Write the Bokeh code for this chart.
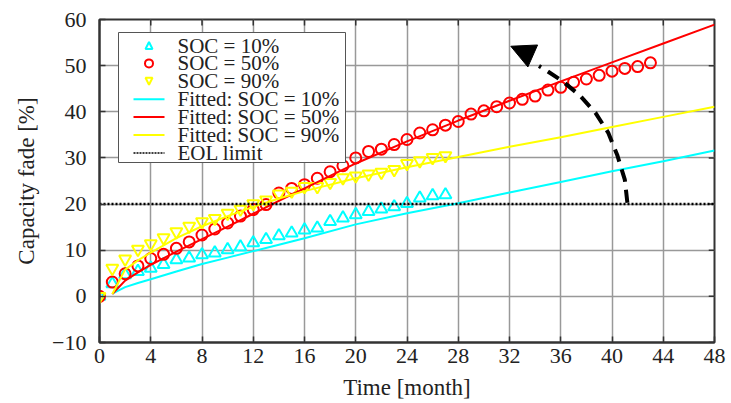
from bokeh.plotting import figure
from bokeh.models import (Range1d, FixedTicker, Arrow, NormalHead, Label, BoxAnnotation)
from bokeh.embed import file_html
from bokeh.resources import INLINE

# ---------------- data ----------------
months_10 = list(range(28))
soc10 = [0, 2.7, 4.7, 5.4, 6.1, 6.9, 7.9, 8.3, 9.0, 9.4, 10.1, 10.7, 11.6, 12.3,
         13.1, 13.7, 14.4, 14.8, 16.2, 17.0, 17.7, 18.4, 18.9, 19.4, 20.1, 21.3,
         21.8, 22.0]

months_50 = list(range(44))
soc50 = [0, 3.1, 4.9, 6.6, 8.2, 9.1, 10.4, 11.8, 13.3, 14.6, 15.9, 17.4, 18.8,
         19.9, 22.4, 23.4, 24.2, 25.6, 27.0, 28.3, 30.0, 31.4, 31.9, 32.9, 34.0,
         35.4, 36.1, 37.1, 37.9, 39.5, 40.2, 41.1, 41.9, 42.7, 43.4, 44.7, 45.3,
         46.4, 47.1, 47.9, 48.8, 49.4, 49.8, 50.6]

months_90 = list(range(28))
soc90 = [0, 6.1, 8.1, 10.2, 11.4, 12.7, 14.0, 15.2, 16.2, 16.9, 18.0, 18.9, 20.1,
         20.9, 22.2, 22.8, 23.8, 23.8, 24.7, 25.7, 26.1, 26.5, 26.9, 27.5, 28.8,
         29.4, 30.1, 30.5]

fit_t = [1, 2, 3, 4, 6, 8, 10, 12, 14, 16, 20, 24, 28, 32, 36, 40, 44, 48]
fit10 = [0.6, 2.0, 2.9, 3.7, 5.4, 7.0, 8.4, 9.8, 11.2, 12.6, 15.6, 18.0, 20.2,
         22.5, 24.8, 27.1, 29.3, 31.6]
fit50 = [0.5, 3.4, 5.2, 6.8, 9.7, 12.4, 15.1, 17.9, 20.7, 23.4, 28.8, 33.6, 38.1,
         42.4, 46.6, 50.7, 54.8, 58.9]
fit90 = [0.5, 5.8, 7.8, 9.5, 12.6, 15.2, 17.4, 19.4, 21.2, 22.8, 25.6, 28.0, 30.2,
         32.4, 34.5, 36.7, 38.9, 41.1]

eol_limit = 20
x_ticks = list(range(0, 49, 4))
y_ticks = list(range(-10, 61, 10))

legend_labels = ["SOC = 10%", "SOC = 50%", "SOC = 90%",
                 "Fitted: SOC = 10%", "Fitted: SOC = 50%", "Fitted: SOC = 90%",
                 "EOL limit"]

# annotation arrow path (month, %)
arrow_t = [41.2, 41.0, 40.4, 39.7, 38.7, 37.5, 36.2, 34.8, 34.3]
arrow_v = [20.3, 25.3, 30.7, 35.5, 39.8, 43.5, 46.5, 49.1, 49.9]
arrow_tip = (32.1, 54.2)
arrow_base = (34.3, 51.5)

FONT = "Liberation Serif"
AX = "#333333"
CY, RD, YL = "#00ffff", "#ff0000", "#ffff00"

x_lo, x_hi = x_ticks[0], x_ticks[-1]
y_lo, y_hi = y_ticks[0], y_ticks[-1]

p = figure(width=731, height=403, x_range=Range1d(x_lo, x_hi), y_range=Range1d(y_lo, y_hi),
           output_backend="svg", toolbar_location=None,
           min_border_left=99, min_border_top=19, min_border_right=17,
           min_border_bottom=61)
p.background_fill_color = "white"
p.outline_line_color = AX
p.outline_line_width = 2

for ax in (p.xaxis[0], p.yaxis[0]):
    ax.major_label_text_font = FONT
    ax.major_label_text_font_size = "22px"
    ax.major_label_text_color = "#222222"
    ax.axis_label_text_font = FONT
    ax.axis_label_text_font_size = "23px"
    ax.axis_label_text_font_style = "normal"
    ax.axis_label_text_color = "#222222"
    ax.major_tick_in = 6
    ax.major_tick_out = 0
    ax.minor_tick_in = 0
    ax.minor_tick_out = 0
    ax.axis_line_color = AX
    ax.axis_line_width = 2
    ax.major_tick_line_color = AX
    ax.major_tick_line_width = 1.5

p.xaxis.ticker = FixedTicker(ticks=x_ticks)
p.yaxis.ticker = FixedTicker(ticks=y_ticks)
p.xaxis.axis_label = "Time [month]"
p.yaxis.axis_label = "Capacity fade [%]"
p.xaxis.major_label_standoff = 6
p.xaxis.axis_label_standoff = 9
p.yaxis.major_label_standoff = 13
p.yaxis.axis_label_standoff = 10
p.yaxis.major_label_overrides = {-10: "\u221210"}

p.xgrid.ticker = FixedTicker(ticks=x_ticks)
p.ygrid.ticker = FixedTicker(ticks=y_ticks)
p.grid.grid_line_color = "#999999"
p.grid.grid_line_width = 1.5

# inward ticks on the top and right edges of the frame
tick_dx = 0.45   # ~6 px in months
tick_dy = 1.3    # ~6 px in %
p.segment(x0=x_ticks, y0=[y_hi] * len(x_ticks), x1=x_ticks,
          y1=[y_hi - tick_dy] * len(x_ticks), line_color=AX, line_width=1.5)
p.segment(x0=[x_hi] * len(y_ticks), y0=y_ticks, x1=[x_hi - tick_dx] * len(y_ticks),
          y1=y_ticks, line_color=AX, line_width=1.5)

p.scatter(months_10, soc10, marker="triangle", size=12, fill_color=None,
          line_color=CY, line_width=2)
p.scatter(months_50, soc50, marker="circle", size=11, fill_color=None,
          line_color=RD, line_width=2)
p.scatter(months_90, soc90, marker="inverted_triangle", size=12, fill_color=None,
          line_color=YL, line_width=2)

p.line(fit_t, fit10, line_color=CY, line_width=2)
p.line(fit_t, fit50, line_color=RD, line_width=2)
p.line(fit_t, fit90, line_color=YL, line_width=2)

p.line([x_lo, x_hi], [eol_limit, eol_limit], line_color="black",
       line_width=2.5, line_dash="2 2")

p.line(arrow_t, arrow_v, line_color="black", line_width=4, line_dash="13 8")
p.add_layout(Arrow(end=NormalHead(size=24, fill_color="black", line_color="black"),
                   x_start=arrow_base[0], y_start=arrow_base[1],
                   x_end=arrow_tip[0], y_end=arrow_tip[1], line_alpha=0))

# ---------------- legend (screen units, relative to frame bottom-left) ----------------
FRAME_H = 323
LEG_LEFT, LEG_RIGHT, LEG_TOP, LEG_BOTTOM = 19, 246, FRAME_H - 13, FRAME_H - 143
ROW0, PITCH = FRAME_H - 26, 17.9
GX0, GX1, MX, TX = 34, 65, 49.5, 78

p.add_layout(BoxAnnotation(left=LEG_LEFT, right=LEG_RIGHT, top=LEG_TOP, bottom=LEG_BOTTOM,
                           left_units="screen", right_units="screen",
                           top_units="screen", bottom_units="screen",
                           fill_color="white", fill_alpha=1,
                           line_color="#555555", line_width=1, line_alpha=1))

rows = [ROW0 - i * PITCH for i in range(len(legend_labels))]

# marker samples
p.add_layout(Arrow(end=NormalHead(size=7, fill_color=None, line_color=CY, line_width=2),
                   x_start=MX, y_start=rows[0] - 4, x_end=MX, y_end=rows[0] + 3.5,
                   start_units="screen", end_units="screen", line_alpha=0))
p.add_layout(BoxAnnotation(left=MX - 4, right=MX + 4, top=rows[1] + 4, bottom=rows[1] - 4,
                           left_units="screen", right_units="screen",
                           top_units="screen", bottom_units="screen",
                           border_radius=4, fill_alpha=0, line_color=RD,
                           line_width=2, line_alpha=1))
p.add_layout(Arrow(end=NormalHead(size=7, fill_color=None, line_color=YL, line_width=2),
                   x_start=MX, y_start=rows[2] + 4, x_end=MX, y_end=rows[2] - 3.5,
                   start_units="screen", end_units="screen", line_alpha=0))

# line samples
for r, col, w, dash in ((rows[3], CY, 2, "solid"), (rows[4], RD, 2, "solid"),
                        (rows[5], YL, 2, "solid"), (rows[6], "black", 1.5, "2 1")):
    p.add_layout(Arrow(start=None, end=None, x_start=GX0, y_start=r, x_end=GX1, y_end=r,
                       start_units="screen", end_units="screen",
                       line_color=col, line_width=w, line_dash=dash))

for r, txt in zip(rows, legend_labels):
    p.add_layout(Label(x=TX, y=r, x_units="screen", y_units="screen", text=txt,
                       text_font=FONT, text_font_size="21px", text_color="#222222",
                       text_baseline="middle", text_align="left"))

open("out.html", "w").write(file_html(p, INLINE))
